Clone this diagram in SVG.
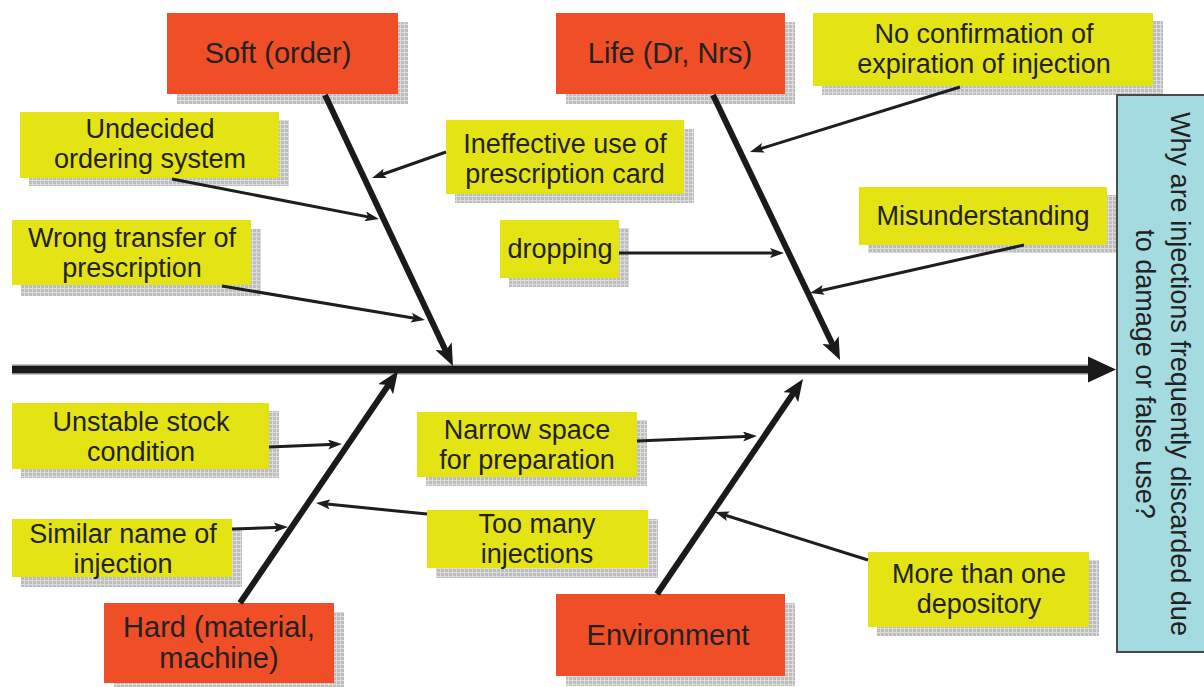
<svg xmlns="http://www.w3.org/2000/svg" width="1204" height="687" viewBox="0 0 1204 687">
<style>
.o{fill:#ef4e27}
.y{fill:#e4e414}
.s{fill:url(#sh)}
.t{font-family:"Liberation Sans",Arial,sans-serif;font-size:27px;fill:#222;text-anchor:middle}
.to{font-family:"Liberation Sans",Arial,sans-serif;font-size:29px;fill:#222;text-anchor:middle}
.thin{stroke:#1e1e1e;stroke-width:3;fill:none;marker-end:url(#ah)}
.thick{stroke:#1a1a1a;stroke-width:6;fill:none;marker-end:url(#ahb)}
</style>
<defs>
<pattern id="sh" width="4" height="4" patternUnits="userSpaceOnUse">
<rect width="4" height="4" fill="#bdbdbd"/>
<path d="M0,0.5H4M0.5,0V4" stroke="#dcdcdc" stroke-width="1"/>
</pattern>
<marker id="ah" markerUnits="userSpaceOnUse" markerWidth="14" markerHeight="10" refX="8" refY="5" orient="auto">
<path d="M0,0 L14,5 L0,10 L3,5 z" fill="#1e1e1e"/>
</marker>
<marker id="ahb" markerUnits="userSpaceOnUse" markerWidth="22" markerHeight="18" refX="12" refY="9" orient="auto">
<path d="M0,0 L22,9 L0,18 L5,9 z" fill="#1a1a1a"/>
</marker>
</defs>
<rect width="1204" height="687" fill="#fff"/>

<g id="soft">
<rect class="s" x="177" y="22" width="231" height="82"/>
<rect class="o" x="167" y="13" width="231" height="81"/>
<text class="to" x="278" y="63">Soft (order)</text>
</g>
<g id="life">
<rect class="s" x="566" y="22" width="229" height="82"/>
<rect class="o" x="556" y="13" width="229" height="81"/>
<text class="to" x="670" y="63">Life (Dr, Nrs)</text>
</g>
<g id="hard">
<rect class="s" x="114" y="612" width="230" height="81"/>
<rect class="o" x="104" y="603" width="230" height="80"/>
<text class="to" x="219" y="637">Hard (material,</text>
<text class="to" x="219" y="668">machine)</text>
</g>
<g id="environment">
<rect class="s" x="566" y="603" width="229" height="83"/>
<rect class="o" x="556" y="594" width="229" height="82"/>
<text class="to" x="668" y="645">Environment</text>
</g>

<g id="undecided">
<rect class="s" x="29" y="120" width="260" height="66"/>
<rect class="y" x="20" y="112" width="259" height="66"/>
<text class="t" x="150" y="138">Undecided</text>
<text class="t" x="150" y="168">ordering system</text>
</g>
<g id="wrong-transfer">
<rect class="s" x="21" y="229" width="240" height="67"/>
<rect class="y" x="12" y="220" width="239" height="65"/>
<text class="t" x="132" y="247">Wrong transfer of</text>
<text class="t" x="132" y="277">prescription</text>
</g>
<g id="ineffective">
<rect class="s" x="455" y="129" width="239" height="74"/>
<rect class="y" x="446" y="120" width="238" height="74"/>
<text class="t" x="565" y="153">Ineffective use of</text>
<text class="t" x="565" y="183">prescription card</text>
</g>
<g id="dropping">
<rect class="s" x="509" y="228" width="120" height="59"/>
<rect class="y" x="500" y="220" width="119" height="58"/>
<text class="t" x="560" y="258">dropping</text>
</g>
<g id="no-confirmation">
<rect class="s" x="822" y="21" width="341" height="74"/>
<rect class="y" x="813" y="13" width="340" height="73"/>
<text class="t" x="984" y="43">No confirmation of</text>
<text class="t" x="984" y="73">expiration of injection</text>
</g>
<g id="misunderstanding">
<rect class="s" x="868" y="195" width="249" height="58"/>
<rect class="y" x="859" y="187" width="248" height="58"/>
<text class="t" x="983" y="225">Misunderstanding</text>
</g>
<g id="unstable">
<rect class="s" x="21" y="411" width="258" height="67"/>
<rect class="y" x="12" y="403" width="257" height="66"/>
<text class="t" x="141" y="431">Unstable stock</text>
<text class="t" x="141" y="461">condition</text>
</g>
<g id="similar-name">
<rect class="s" x="21" y="528" width="221" height="59"/>
<rect class="y" x="12" y="519" width="220" height="58"/>
<text class="t" x="123" y="543">Similar name of</text>
<text class="t" x="123" y="573">injection</text>
</g>
<g id="narrow-space">
<rect class="s" x="426" y="420" width="221" height="66"/>
<rect class="y" x="417" y="412" width="220" height="65"/>
<text class="t" x="527" y="439">Narrow space</text>
<text class="t" x="527" y="469">for preparation</text>
</g>
<g id="too-many">
<rect class="s" x="436" y="519" width="222" height="59"/>
<rect class="y" x="427" y="510" width="221" height="58"/>
<text class="t" x="537" y="533">Too many</text>
<text class="t" x="537" y="563">injections</text>
</g>
<g id="more-than-one">
<rect class="s" x="877" y="560" width="222" height="76"/>
<rect class="y" x="868" y="552" width="221" height="75"/>
<text class="t" x="979" y="583">More than one</text>
<text class="t" x="979" y="613">depository</text>
</g>

<g id="problem">
<rect x="1117" y="95" width="92" height="557" fill="#a3dbe0" stroke="#4a4a4a" stroke-width="2"/>
<g transform="translate(1171,374) rotate(90)">
<text class="t" x="0" y="0">Why are injections frequently discarded due</text>
<text class="t" x="0" y="35">to damage or false use?</text>
</g>
</g>

<g id="connectors">
<line x1="12" y1="369.5" x2="1092" y2="369.5" stroke="#8a8a8a" stroke-width="10"/>
<line x1="12" y1="369.5" x2="1092" y2="369.5" stroke="#1a1a1a" stroke-width="7"/>
<polygon points="1088,356.5 1116,369.5 1088,382.5" fill="#1a1a1a"/>
<line class="thick" x1="325" y1="95" x2="448.7" y2="357"/>
<line class="thick" x1="713" y1="95" x2="835.7" y2="351"/>
<line class="thick" x1="240" y1="603" x2="392.4" y2="379.3"/>
<line class="thick" x1="657" y1="594" x2="797.4" y2="387.3"/>
<line class="thin" x1="446" y1="152" x2="377.7" y2="176"/>
<line class="thin" x1="172" y1="179" x2="373.1" y2="217.9"/>
<line class="thin" x1="222" y1="286" x2="419.1" y2="319"/>
<line class="thin" x1="960" y1="87" x2="755.7" y2="150.2"/>
<line class="thin" x1="619" y1="253" x2="778" y2="253"/>
<line class="thin" x1="1024" y1="245" x2="815.9" y2="291.7"/>
<line class="thin" x1="269" y1="447" x2="336" y2="444.2"/>
<line class="thin" x1="232" y1="529" x2="282" y2="527.2"/>
<line class="thin" x1="427" y1="514" x2="322" y2="503.6"/>
<line class="thin" x1="637" y1="441" x2="751" y2="436.2"/>
<line class="thin" x1="868" y1="560" x2="720.7" y2="513.8"/>
</g>
</svg>
